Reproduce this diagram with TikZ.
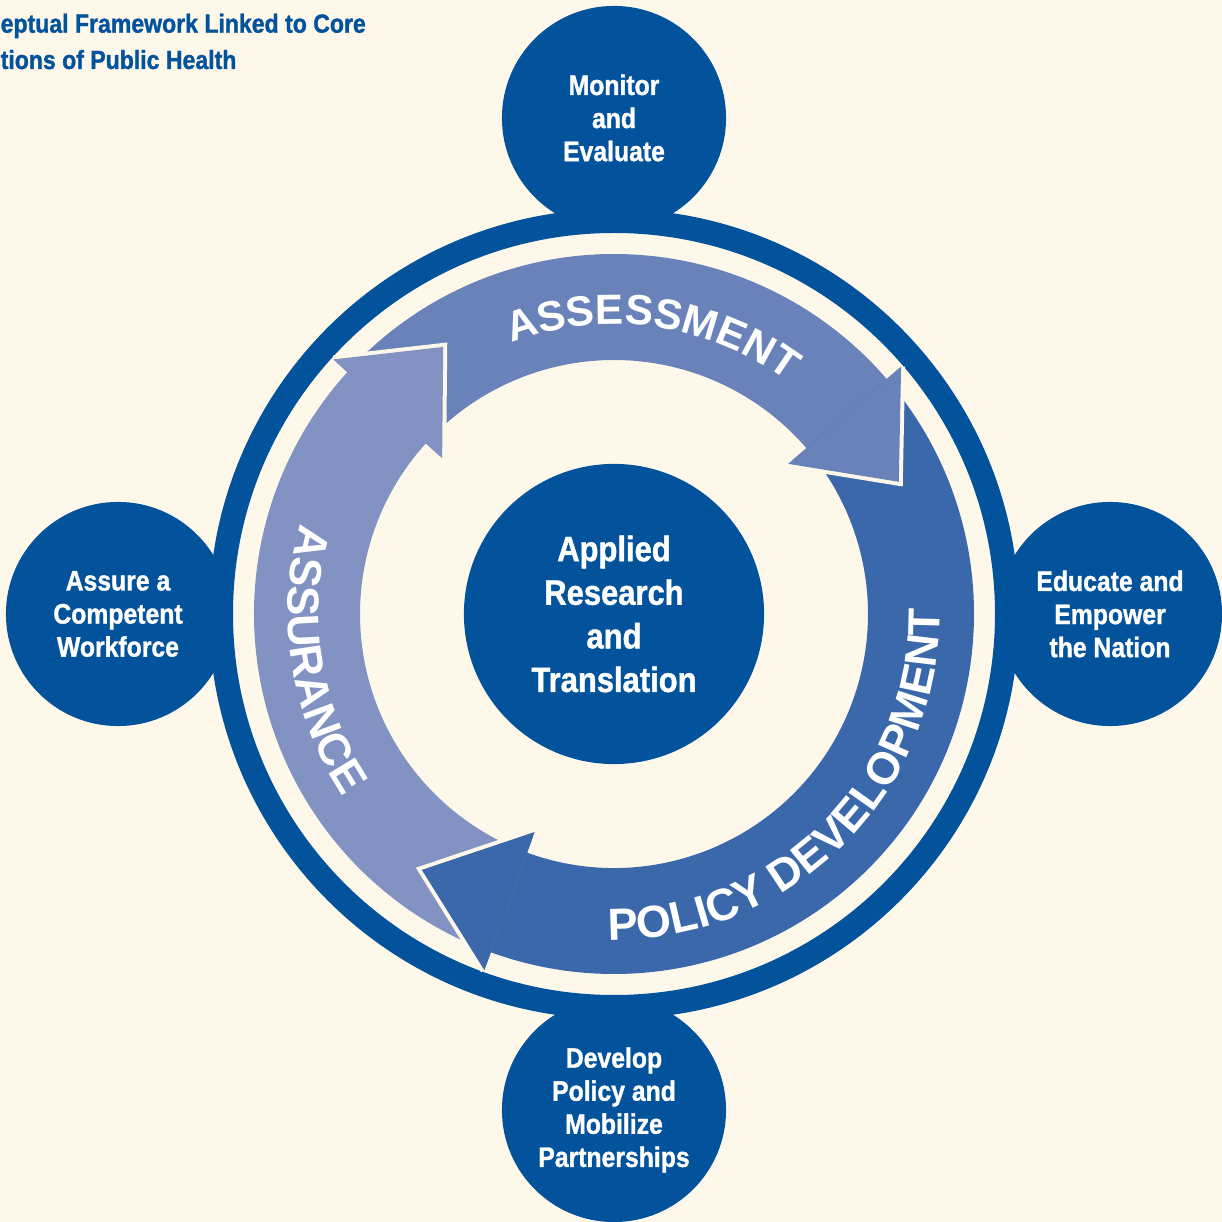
\documentclass[tikz,border=0pt]{standalone}
\usepackage{fontspec}
\setmainfont{Liberation Sans}
\newfontfamily\condfont{Liberation Sans}[FakeStretch=0.88,BoldFeatures={FakeBold=1.2}]
\usetikzlibrary{decorations.text}
\definecolor{cream}{RGB}{254,248,235}
\definecolor{darkblue}{RGB}{2,83,155}
\definecolor{assesscol}{RGB}{105,131,186}
\definecolor{policycol}{RGB}{58,104,170}
\definecolor{assurecol}{RGB}{129,146,195}
\newcommand{\arcfont}{\fontsize{12}{12}\selectfont\bfseries}
\newcommand{\arcfontb}{\fontsize{12.8}{12.8}\selectfont\bfseries}

\begin{document}
\begin{tikzpicture}[x=0.01cm,y=0.01cm,
    satellite/.style={circle,fill=darkblue,text=white,inner sep=0pt,minimum size=2.24cm,align=center,font=\condfont\bfseries\fontsize{8}{9.4}\selectfont},
    hub/.style={circle,fill=darkblue,text=white,inner sep=0pt,minimum size=3cm,align=center,font=\condfont\bfseries\fontsize{10}{12.4}\selectfont},
    titletext/.style={anchor=base west,inner sep=0pt,text=darkblue,font=\condfont\bfseries\fontsize{7.45}{10.4}\selectfont},
    headline/.style={draw=cream,line width=0.08cm,line join=miter},
    arclabel/.style={decorate,decoration={text along path,text align=center,text color=white,text={#1}}}]
    \useasboundingbox (-614,-608) rectangle (608,614);
    \fill[cream] (-614,-608) rectangle (608,614);

    % outer ring
    \draw[darkblue,line width=0.24cm] (0,0) circle[radius=393];

    % the three arrows
    \fill[assesscol] (137.8:360) arc[start angle=137.8,end angle=40.75,radius=360] -- (40.75:379) -- (24.9:314) -- (40.75:230) -- (40.75:254) arc[start angle=40.75,end angle=137.8,radius=254] -- cycle;
    \fill[policycol] (40.75:360) arc[start angle=40.75,end angle=-110,radius=360] -- (-110:379) -- (-126.9:320) -- (-110:232) -- (-110:254) arc[start angle=-110,end angle=40.75,radius=254] -- cycle;
    \fill[assurecol] (250:360) arc[start angle=250,end angle=137.8,radius=360] -- (137.8:379) -- (122.6:317) -- (137.8:232) -- (137.8:254) arc[start angle=137.8,end angle=250,radius=254] -- cycle;

    % heads again, on top of the tails
    \draw[headline] (40.75:379) -- (24.9:314) -- (40.75:230);
    \fill[assesscol] (40.75:379) -- (24.9:314) -- (40.75:230) -- cycle;
    \draw[headline] (-110:379) -- (-126.9:320) -- (-110:232);
    \fill[policycol] (-110:379) -- (-126.9:320) -- (-110:232) -- cycle;
    \draw[headline] (137.8:379) -- (122.6:317) -- (137.8:232);
    \fill[assurecol] (137.8:379) -- (122.6:317) -- (137.8:232) -- cycle;

    % labels on the arrows
    \path[arclabel={|\arcfont|ASSESSMENT}] (122:290) arc[start angle=122,end angle=42,radius=290];
    \path[arclabel={|\arcfontb|POLICY DEVELOPMENT}] (260:326) arc[start angle=260,end angle=370,radius=326];
    \path[arclabel={|\arcfontb|ASSURANCE}] (154:326) arc[start angle=154,end angle=224,radius=326];

    \node[hub] (research) at (0,0) {Applied\\Research\\and\\Translation};
    \node[satellite] (monitor) at (0,496) {Monitor\\and\\Evaluate};
    \node[satellite] (educate) at (496,0) {Educate and\\Empower\\the Nation};
    \node[satellite] (develop) at (0,-496) {Develop\\Policy and\\Mobilize\\Partnerships};
    \node[satellite] (assure) at (-496,0) {Assure a\\Competent\\Workforce};

    \node[titletext] (title1) at (-614,581.3) {eptual Framework Linked to Core};
    \node[titletext] (title2) at (-614,545) {tions of Public Health};
\end{tikzpicture}
\end{document}
